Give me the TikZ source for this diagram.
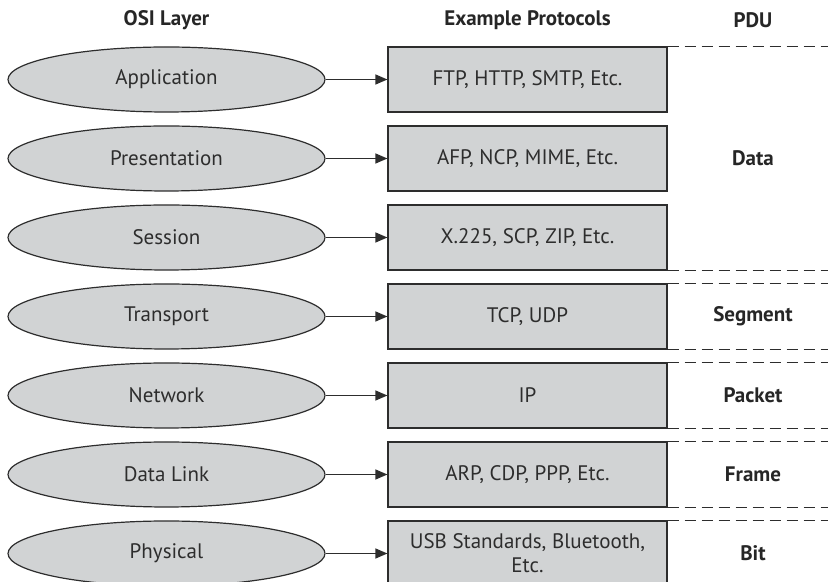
\documentclass[tikz,border=0pt]{standalone}
\usepackage{fontspec}
\setmainfont{PT Sans}
\usepackage{tikz}
\usetikzlibrary{shapes.geometric,arrows.meta}
\definecolor{fillgray}{RGB}{209,211,212}
\definecolor{linegray}{RGB}{45,45,45}

\begin{document}
\begin{tikzpicture}[x=0.5pt,y=-0.5pt,
  layer/.style={ellipse,draw=linegray,fill=fillgray,line width=0.6pt,minimum width=158.5pt,minimum height=32.5pt,inner sep=0pt,text=linegray,font=\fontsize{10.5}{12}\selectfont},
  proto/.style={rectangle,draw=linegray,fill=fillgray,line width=0.6pt,minimum width=139.5pt,minimum height=32.5pt,inner sep=0pt,align=center,text=linegray,font=\fontsize{10.5}{12}\selectfont},
  head/.style={font=\bfseries\fontsize{10.5}{12}\selectfont,text=black!85},
  sep/.style={draw=linegray,line width=0.6pt,dash pattern=on 5.5pt off 3pt}]
\useasboundingbox (0,0) rectangle (832,582);
\clip (0,0) rectangle (832,582);
\node[head] (hOSI) at (166.5,20){OSI Layer};
\node[head] (hPro) at (527.5,20){Example Protocols};
\node[head] (hPDU) at (753,20){PDU};
\node[layer] (App) at (166.5,79.5){Application};
\node[layer] (Pre) at (166.5,158.5){Presentation};
\node[layer] (Ses) at (166.5,237.5){Session};
\node[layer] (Tra) at (166.5,316.5){Transport};
\node[layer] (Net) at (166.5,395.5){Network};
\node[layer] (DL) at (166.5,474.5){Data Link};
\node[layer] (Phy) at (166.5,553.5){Physical};
\node[proto] (AppP) at (527.5,79.5){FTP, HTTP, SMTP, Etc.};
\node[proto] (PreP) at (527.5,158.5){AFP, NCP, MIME, Etc.};
\node[proto] (SesP) at (527.5,237.5){X.225, SCP, ZIP, Etc.};
\node[proto] (TraP) at (527.5,316.5){TCP, UDP};
\node[proto] (NetP) at (527.5,395.5){IP};
\node[proto] (DLP) at (527.5,474.5){ARP, CDP, PPP, Etc.};
\node[proto] (PhyP) at (527.5,553.5){USB Standards, Bluetooth,\\Etc.};
\node[head] (Data) at (753,158.5){Data};
\node[head] (Seg) at (753,316.5){Segment};
\node[head] (Pac) at (753,395.5){Packet};
\node[head] (Fra) at (753,474.5){Frame};
\node[head] (Bit) at (753,553.5){Bit};
\foreach \from/\to in {App/AppP,Pre/PreP,Ses/SesP,Tra/TraP,Net/NetP,DL/DLP,Phy/PhyP}
  \draw[linegray,line width=0.6pt,-{Triangle[length=6pt,width=5pt]}] (\from) -- (\to);
\foreach \n/\c in {AppP/north east,SesP/south east,TraP/north east,TraP/south east,NetP/north east,NetP/south east,DLP/north east,DLP/south east,PhyP/north east}
  \draw[sep] (\n.\c) -- ++(160,0);
\end{tikzpicture}
\end{document}
